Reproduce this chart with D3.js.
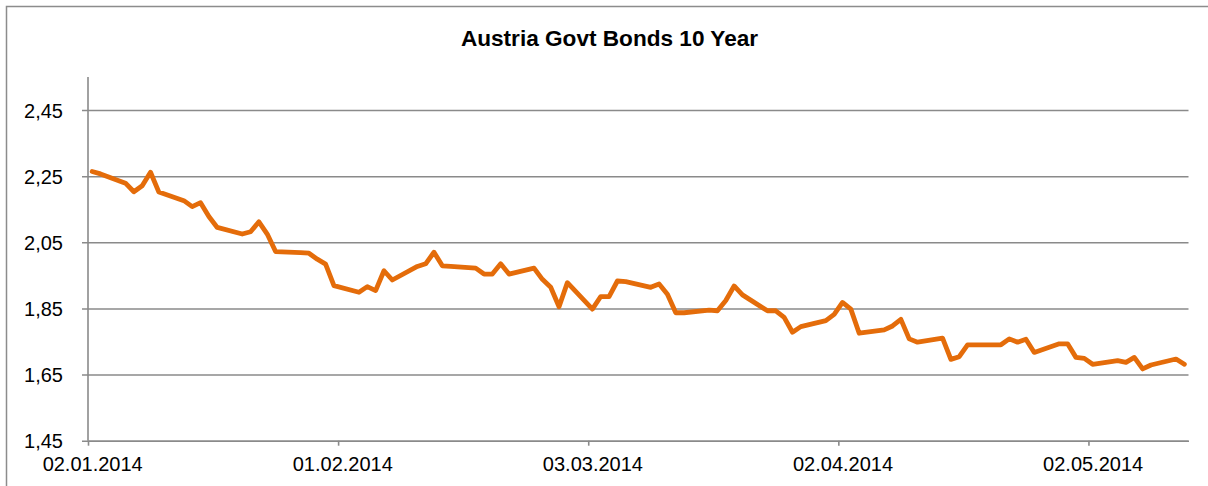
<!DOCTYPE html>
<html>
<head>
<meta charset="utf-8">
<script src="https://cdn.jsdelivr.net/npm/d3@7/dist/d3.min.js"></script>
<style>
  html, body { margin: 0; padding: 0; background: #fff; }
  svg { display: block; }
  text { font-family: "Liberation Sans", Arial, sans-serif; fill: #000; }
</style>
</head>
<body>
<svg id="chart" width="1208" height="486"></svg>
<script>
const title = "Austria Govt Bonds 10 Year";

const dates = [
  "2014-01-02","2014-01-03","2014-01-06","2014-01-07","2014-01-08","2014-01-09","2014-01-10",
  "2014-01-13","2014-01-14","2014-01-15","2014-01-16","2014-01-17",
  "2014-01-20","2014-01-21","2014-01-22","2014-01-23","2014-01-24",
  "2014-01-27","2014-01-28","2014-01-29","2014-01-30","2014-01-31",
  "2014-02-03","2014-02-04","2014-02-05","2014-02-06","2014-02-07",
  "2014-02-10","2014-02-11","2014-02-12","2014-02-13","2014-02-14",
  "2014-02-17","2014-02-18","2014-02-19","2014-02-20","2014-02-21",
  "2014-02-24","2014-02-25","2014-02-26","2014-02-27","2014-02-28",
  "2014-03-03","2014-03-04","2014-03-05","2014-03-06","2014-03-07",
  "2014-03-10","2014-03-11","2014-03-12","2014-03-13","2014-03-14",
  "2014-03-17","2014-03-18","2014-03-19","2014-03-20","2014-03-21",
  "2014-03-24","2014-03-25","2014-03-26","2014-03-27","2014-03-28",
  "2014-03-31","2014-04-01","2014-04-02","2014-04-03","2014-04-04",
  "2014-04-07","2014-04-08","2014-04-09","2014-04-10","2014-04-11",
  "2014-04-14","2014-04-15","2014-04-16","2014-04-17",
  "2014-04-21","2014-04-22","2014-04-23","2014-04-24","2014-04-25",
  "2014-04-28","2014-04-29","2014-04-30","2014-05-01","2014-05-02",
  "2014-05-05","2014-05-06","2014-05-07","2014-05-08","2014-05-09",
  "2014-05-12","2014-05-13"
];

const yields = [
  2.264,2.257,2.229,2.203,2.221,2.262,2.202,
  2.176,2.158,2.170,2.128,2.095,
  2.075,2.082,2.112,2.075,2.022,
  2.019,2.017,1.999,1.984,1.919,
  1.899,1.916,1.904,1.964,1.936,
  1.977,1.985,2.020,1.979,1.977,
  1.972,1.954,1.954,1.985,1.954,
  1.972,1.938,1.914,1.855,1.928,
  1.848,1.886,1.886,1.933,1.931,
  1.914,1.924,1.893,1.837,1.837,
  1.845,1.843,1.874,1.918,1.891,
  1.843,1.843,1.823,1.778,1.795,
  1.813,1.832,1.868,1.848,1.775,
  1.785,1.797,1.817,1.758,1.748,
  1.760,1.696,1.704,1.740,
  1.740,1.758,1.748,1.757,1.717,
  1.743,1.743,1.702,1.699,1.681,
  1.692,1.687,1.702,1.667,1.679,
  1.697,1.681
];

const xTickDates = ["2014-01-02","2014-02-01","2014-03-03","2014-04-02","2014-05-02"];
const yTicks = [1.45, 1.65, 1.85, 2.05, 2.25, 2.45];
const xDomain = ["2014-01-02","2014-05-14"];
const yDomain = [1.45, 2.55];

const parse = d3.utcParse("%Y-%m-%d");
const fmtDate = d3.utcFormat("%d.%m.%Y");
const fmtNum = v => d3.format(".2f")(v).replace(".", ",");
const HALF_DAY = 12 * 3600 * 1000;

const data = dates.map((d, i) => ({ date: new Date(parse(d).getTime() + HALF_DAY), value: yields[i] }));

const svg = d3.select("#chart");
const plot = { left: 88, right: 1188.5, top: 77, bottom: 440.7 };

// outer frame
svg.append("path")
  .attr("d", `M6.5,${486 + 10}V6.5H${1208 + 10}`)
  .attr("fill", "none").attr("stroke", "#8c8c8c").attr("stroke-width", 1.5);

const x = d3.scaleUtc().domain(xDomain.map(parse)).range([plot.left, plot.right]);
const y = d3.scaleLinear().domain(yDomain).range([plot.bottom, plot.top]);

// title
svg.append("text")
  .attr("x", 609.5).attr("y", 46)
  .attr("text-anchor", "middle")
  .style("font-size", "22.6px").style("font-weight", "bold")
  .text(title);

// gridlines via axis
const yAxis = d3.axisLeft(y).tickValues(yTicks).tickFormat(fmtNum)
  .tickSize(-(plot.right - plot.left)).tickPadding(0);
const gy = svg.append("g").attr("transform", `translate(${plot.left},0)`).call(yAxis);
gy.select(".domain").remove();
gy.selectAll(".tick line")
  .attr("x1", -6)
  .attr("stroke", "#8a8a8a").attr("stroke-width", 1.6);
gy.selectAll(".tick text")
  .attr("x", -25).attr("dy", "0.36em")
  .style("font-size", "20px").style("font-family", "'Liberation Sans', Arial, sans-serif").attr("fill", "#000");

// y axis line
svg.append("line")
  .attr("x1", plot.left).attr("x2", plot.left)
  .attr("y1", plot.top).attr("y2", plot.bottom)
  .attr("stroke", "#8a8a8a").attr("stroke-width", 1.6);

// x axis
const xAxis = d3.axisBottom(x).tickValues(xTickDates.map(parse)).tickFormat(fmtDate)
  .tickSize(5).tickPadding(0).tickSizeOuter(0);
const gx = svg.append("g").attr("transform", `translate(0,${plot.bottom})`).call(xAxis);
gx.select(".domain").attr("stroke", "#8a8a8a").attr("stroke-width", 1.6);
gx.selectAll(".tick line").attr("stroke", "#8a8a8a").attr("stroke-width", 1.6);
const halfDayPx = x(new Date(parse(xTickDates[0]).getTime() + HALF_DAY)) - x(parse(xTickDates[0]));
gx.selectAll(".tick text")
  .attr("x", halfDayPx).attr("y", 30).attr("dy", 0)
  .style("font-size", "20px").style("font-family", "'Liberation Sans', Arial, sans-serif").attr("fill", "#000");

// line
const line = d3.line().x(d => x(d.date)).y(d => y(d.value));
svg.append("path")
  .datum(data)
  .attr("d", line)
  .attr("fill", "none")
  .attr("stroke", "#E46C0A")
  .attr("stroke-width", 4.8)
  .attr("stroke-linejoin", "round")
  .attr("stroke-linecap", "round");
</script>
</body>
</html>
